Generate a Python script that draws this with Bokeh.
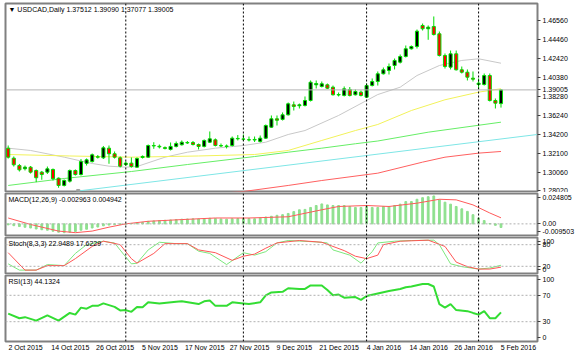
from bokeh.plotting import figure
from bokeh.layouts import column
from bokeh.models import (ColumnDataSource, Span, Label, FixedTicker, NumeralTickFormatter, Range1d,
                          LinearAxis)
from bokeh.embed import file_html
from bokeh.resources import INLINE

FONT = "Liberation Sans"
FS = "7px"

# ---------------- data ----------------
date_labels = ["2 Oct 2015", "14 Oct 2015", "26 Oct 2015", "5 Nov 2015", "17 Nov 2015", "27 Nov 2015",
               "9 Dec 2015", "21 Dec 2015", "4 Jan 2016", "14 Jan 2016", "26 Jan 2016", "5 Feb 2016"]
label_idx = [0, 8, 16, 24, 32, 40, 48, 56, 64, 72, 80, 88]
separator_idx = [21, 42, 64, 84]   # first bars of Nov, Dec, Jan, Feb

opens = [1.3266, 1.3157, 1.3077, 1.3042, 1.3059, 1.3023, 1.3005, 1.3005, 1.3034, 1.2939,
         1.2860, 1.2907, 1.3023, 1.2979, 1.3100, 1.3120, 1.3172, 1.3161, 1.3266, 1.3205,
         1.3161, 1.3088, 1.3103, 1.3059, 1.3165, 1.3168, 1.3295, 1.3287, 1.3272, 1.3252,
         1.3285, 1.3303, 1.3328, 1.3328, 1.3306, 1.3285, 1.3331, 1.3357, 1.3295, 1.3285,
         1.3295, 1.3368, 1.3366, 1.3359, 1.3355, 1.3339, 1.3375, 1.3494, 1.3586, 1.3579,
         1.3629, 1.3738, 1.3728, 1.3731, 1.3785, 1.3956, 1.3938, 1.3956, 1.3930, 1.3845,
         1.3840, 1.3905, 1.3847, 1.3876, 1.3821, 1.3948, 1.3992, 1.4076, 1.4112, 1.4166,
         1.4202, 1.4264, 1.4348, 1.4373, 1.4602, 1.4566, 1.4591, 1.4511, 1.4275, 1.4148,
         1.4293, 1.4119, 1.4093, 1.4028, 1.3959, 1.3959, 1.4057, 1.3785, 1.37512]
highs = [1.3295, 1.3176, 1.3094, 1.3077, 1.3072, 1.3034, 1.3018, 1.3066, 1.3045, 1.2947,
         1.2925, 1.3034, 1.3034, 1.3148, 1.3154, 1.3208, 1.3192, 1.3290, 1.3295, 1.3230,
         1.3176, 1.3121, 1.3165, 1.3165, 1.3187, 1.3306, 1.3331, 1.3306, 1.3285, 1.3328,
         1.3339, 1.3350, 1.3344, 1.3344, 1.3317, 1.3361, 1.3448, 1.3372, 1.3317, 1.3306,
         1.3393, 1.3409, 1.3415, 1.3393, 1.3393, 1.3404, 1.3524, 1.3622, 1.3622, 1.3655,
         1.3763, 1.3774, 1.3752, 1.3829, 1.4003, 1.4003, 1.3992, 1.3970, 1.3948, 1.3872,
         1.3938, 1.3932, 1.3905, 1.3894, 1.3970, 1.4025, 1.4101, 1.4144, 1.4188, 1.4242,
         1.4286, 1.4384, 1.4384, 1.4558, 1.4623, 1.4602, 1.4700, 1.4536, 1.4297, 1.4329,
         1.4329, 1.4155, 1.4123, 1.4101, 1.4025, 1.4079, 1.4079, 1.3807, 1.39090]
lows = [1.3153, 1.3066, 1.3012, 1.3023, 1.2990, 1.2896, 1.2922, 1.2985, 1.2914, 1.2835,
        1.2849, 1.2892, 1.2968, 1.2968, 1.3077, 1.3110, 1.3153, 1.3148, 1.3096, 1.3153,
        1.3056, 1.3072, 1.3054, 1.3054, 1.3153, 1.3163, 1.3259, 1.3263, 1.3252, 1.3241,
        1.3274, 1.3295, 1.3312, 1.3295, 1.3252, 1.3274, 1.3322, 1.3285, 1.3279, 1.3263,
        1.3285, 1.3350, 1.3344, 1.3339, 1.3333, 1.3328, 1.3366, 1.3486, 1.3513, 1.3567,
        1.3622, 1.3676, 1.3698, 1.3720, 1.3774, 1.3916, 1.3927, 1.3910, 1.3840, 1.3829,
        1.3829, 1.3829, 1.3840, 1.3829, 1.3812, 1.3938, 1.3948, 1.4068, 1.4068, 1.4123,
        1.4188, 1.4253, 1.4340, 1.4351, 1.4547, 1.4446, 1.4493, 1.4264, 1.4133, 1.4123,
        1.4112, 1.4079, 1.4003, 1.3992, 1.3905, 1.3948, 1.3774, 1.3698, 1.37077]
closes = [1.3168, 1.3085, 1.3030, 1.3059, 1.3005, 1.2944, 1.2979, 1.3041, 1.2933, 1.2860,
          1.2914, 1.3023, 1.2979, 1.3120, 1.3139, 1.3194, 1.3168, 1.3270, 1.3205, 1.3168,
          1.3070, 1.3103, 1.3067, 1.3154, 1.3176, 1.3295, 1.3290, 1.3280, 1.3263, 1.3285,
          1.3317, 1.3331, 1.3323, 1.3306, 1.3285, 1.3350, 1.3368, 1.3295, 1.3290, 1.3290,
          1.3375, 1.3372, 1.3364, 1.3355, 1.3361, 1.3375, 1.3513, 1.3586, 1.3570, 1.3629,
          1.3749, 1.3720, 1.3738, 1.3785, 1.3984, 1.3970, 1.3967, 1.3919, 1.3847, 1.3850,
          1.3912, 1.3840, 1.3883, 1.3840, 1.3948, 1.3992, 1.4076, 1.4119, 1.4155, 1.4221,
          1.4264, 1.4348, 1.4373, 1.4540, 1.4566, 1.4583, 1.4503, 1.4275, 1.4155, 1.4293,
          1.4119, 1.4093, 1.4039, 1.4017, 1.3974, 1.4057, 1.3785, 1.3756, 1.39005]

# moving averages read at selected bars
ma_gray_idx = [0, 4, 10, 15, 18, 21, 23, 28, 32, 37, 42, 46, 50, 53, 59, 64, 66, 70, 73, 77, 81, 84, 88]
ma_gray_val = [1.3266, 1.3241, 1.3168, 1.3099, 1.3070, 1.3059, 1.3066, 1.3168, 1.3222, 1.3266, 1.3295,
               1.3331, 1.3415, 1.3458, 1.3622, 1.3785, 1.3850, 1.3930, 1.4057, 1.4166, 1.4221, 1.4239, 1.4191]
ma_yellow_idx = [0, 11, 22, 34, 44, 50, 56, 62, 66, 72, 78, 84, 88]
ma_yellow_val = [1.3197, 1.3181, 1.3168, 1.3181, 1.3197, 1.3241, 1.3350, 1.3458, 1.3524, 1.3676, 1.3793, 1.3876, 1.3913]
ma_green_idx = [0, 10, 22, 32, 44, 50, 56, 62, 66, 75, 88]
ma_green_val = [1.2860, 1.2936, 1.3012, 1.3088, 1.3175, 1.3222, 1.3266, 1.3314, 1.3344, 1.3440, 1.3549]
ma_red_idx = [37, 42, 50, 56, 66, 74, 78, 84, 88]
ma_red_val = [1.2770, 1.2794, 1.2860, 1.2914, 1.2994, 1.3114, 1.3168, 1.3212, 1.3230]
trend_idx = [12.5, 94.5]
trend_val = [1.2800, 1.3415]

price_ticks = [1.28020, 1.30060, 1.32100, 1.34200, 1.36240, 1.38280, 1.40380, 1.42420, 1.44460, 1.46560]

macd_main = [-0.0008, -0.0015, -0.0022, -0.0028, -0.0034, -0.0042, -0.0048, -0.0052, -0.0060, -0.0068,
             -0.0072, -0.0068, -0.0062, -0.0052, -0.0044, -0.0034, -0.0026, -0.0016, -0.0010, -0.0006,
             -0.0004, -0.0002, 0.0003, 0.0008, 0.0012, 0.0020, 0.0024, 0.0027, 0.0029, 0.0032,
             0.0035, 0.0038, 0.0040, 0.0041, 0.0040, 0.0043, 0.0046, 0.0043, 0.0040, 0.0038,
             0.0042, 0.0043, 0.0044, 0.0043, 0.0042, 0.0048, 0.0056, 0.0062, 0.0070, 0.0075,
             0.0085, 0.0100, 0.0115, 0.0118, 0.0134, 0.0150, 0.0163, 0.0155, 0.0150, 0.0150,
             0.0150, 0.0142, 0.0134, 0.0134, 0.0142, 0.0134, 0.0134, 0.0142, 0.0142, 0.0150,
             0.0161, 0.0182, 0.0182, 0.0201, 0.0214, 0.0222, 0.0228, 0.0196, 0.0177, 0.0161,
             0.0142, 0.0123, 0.0102, 0.0075, 0.0048, 0.0027, 0.0002, -0.0012, -0.002963]
macd_sig_idx = [0, 4, 9, 12, 15, 18, 21, 25, 31, 37, 43, 50, 56, 59, 64, 68, 73, 77, 80, 83, 86, 88]
macd_sig_val = [0.0048, -0.0005, -0.0059, -0.0072, -0.0059, -0.0027, 0.0000, 0.0021, 0.0035, 0.0048, 0.0048,
                0.0058, 0.0115, 0.0142, 0.0150, 0.0142, 0.0169, 0.0201, 0.0196, 0.0155, 0.0089, 0.004942]
macd_hi, macd_lo = 0.024805, -0.009503

stoch_k_idx = [0, 2, 5, 7, 10, 12, 14, 17, 18, 19, 20, 22, 23, 25, 27, 30, 32, 34, 36, 39, 42, 44, 46, 48,
               50, 55, 57, 58, 61, 63, 65, 66, 69, 72, 76, 77, 79, 81, 84, 86, 88]
stoch_k_val = [26.8, 9.4, 9.4, 24.8, 21.9, 55.8, 80.0, 89.7, 86.8, 84.9, 65.0, 26.8, 28.7, 65.5, 86.8, 82.9,
               82.9, 62.0, 55.8, 24.8, 57.8, 51.0, 60.7, 84.9, 91.6, 87.8, 84.9, 65.5, 51.0, 28.7, 60.7,
               84.9, 89.7, 91.6, 92.6, 80.0, 26.8, 19.0, 12.3, 15.2, 22.9489]
stoch_d_idx = [0, 3, 5, 7, 10, 12, 15, 17, 18, 20, 22, 23, 26, 28, 32, 34, 37, 40, 42, 44, 46, 48, 52, 56,
               60, 62, 64, 66, 67, 70, 75, 78, 80, 82, 84, 86, 88]
stoch_d_val = [57.8, 9.4, 9.4, 21.9, 21.9, 41.3, 75.2, 89.7, 86.8, 80.0, 41.3, 28.7, 55.8, 82.9, 82.9, 65.5,
               57.8, 36.5, 48.0, 53.9, 70.3, 84.9, 91.6, 86.8, 63.6, 48.0, 41.3, 51.0, 80.0, 89.7, 92.6,
               75.2, 31.6, 19.0, 12.3, 12.3, 17.6229]

rsi_idx = [0, 2, 3, 5, 7, 9, 11, 12, 13, 14, 15, 16, 17, 19, 20, 21, 22, 23, 24, 25, 27, 30, 31, 34, 35, 36,
           37, 39, 40, 42, 43, 45, 46, 47, 49, 50, 52, 53, 54, 56, 57, 58, 59, 60, 62, 63, 64, 66, 68, 70,
           71, 72, 74, 75, 76, 77, 78, 79, 80, 82, 83, 84, 85, 86, 87, 88]
rsi_val = [42.3, 35.3, 36.9, 31.6, 39.6, 31.6, 43.3, 40.7, 51.3, 49.7, 54.0, 54.0, 57.7, 52.4, 47.1, 47.6,
           44.9, 52.4, 51.9, 59.3, 57.7, 60.4, 60.9, 56.7, 60.9, 62.0, 54.0, 54.0, 59.3, 57.7, 56.7, 59.3,
           70.0, 74.3, 75.3, 80.7, 79.6, 79.6, 84.9, 84.9, 78.0, 70.0, 71.1, 66.3, 67.3, 63.1, 68.9, 72.7,
           76.4, 79.6, 82.3, 83.3, 87.1, 87.1, 83.3, 56.7, 51.3, 56.7, 47.6, 46.0, 43.3, 40.7, 46.0, 35.3,
           35.3, 44.1324]

# ---------------- style ----------------
FRAME = "#808080"
WICK = "#00dd00"
LEVEL = "#b0b0b0"
EDGE_PAD = 4        # px: MT4 draws the edge labels inside the panel
LABEL_SHIFT = 3.1   # bars: MT4 date labels start at their bar (Bokeh centres them)

xr = Range1d(-0.48, 94.52)


def make_fig(h, yr, top, bottom):
    p = figure(width=583, height=h, x_range=xr, y_range=yr, output_backend="svg", toolbar_location=None,
               x_axis_location=None, y_axis_location="right",
               min_border_left=5, min_border_right=46, min_border_top=top, min_border_bottom=bottom)
    p.grid.visible = False
    p.outline_line_color = FRAME
    p.outline_line_width = 2
    p.background_fill_color = "white"
    p.border_fill_color = "white"
    ax = p.yaxis[0]
    ax.axis_line_color = FRAME
    ax.major_tick_line_color = "#404040"
    ax.major_tick_out = 3
    ax.major_tick_in = 0
    ax.minor_tick_line_color = None
    ax.major_label_text_font = FONT
    ax.major_label_text_font_size = FS
    ax.major_label_text_color = "black"
    ax.major_label_standoff = 2
    for s in separator_idx:
        p.add_layout(Span(location=s, dimension="height", line_color="black", line_dash="2 2", line_width=1))
    return p


def panel_title(p, text):
    p.add_layout(Label(x=xr.start, y=p.y_range.end, x_offset=3, y_offset=-2, text=text,
                       text_baseline="top", text_font=FONT, text_font_size=FS, text_color="black"))


def edge_ticks(lo, hi, frame_h):
    d = (hi - lo) * EDGE_PAD / frame_h
    return hi - d, lo + d


# ---------------- main price panel ----------------
pm = make_fig(192, Range1d(1.27943, 1.48411), 3, 1)
pm.yaxis.ticker = FixedTicker(ticks=price_ticks + [closes[-1]])
pm.yaxis.formatter = NumeralTickFormatter(format="0.00000")

pm.line(ma_gray_idx, ma_gray_val, line_color="#c8c8c8", line_width=1)
pm.line(ma_yellow_idx, ma_yellow_val, line_color="#f2f25a", line_width=1)
pm.line(ma_green_idx, ma_green_val, line_color="#66ee66", line_width=1)
pm.line(ma_red_idx, ma_red_val, line_color="#ff6060", line_width=1)
pm.line(trend_idx, trend_val, line_color="#7ee6e6", line_width=1)
pm.scatter([trend_idx[0]], [trend_val[0]], marker="square", size=3, color="#a0a0a0")

pm.add_layout(Span(location=closes[-1], dimension="width", line_color="#b4b4b4", line_width=1))

idx = list(range(len(closes)))
src = ColumnDataSource(dict(
    x=idx, high=highs, low=lows,
    top=[max(o, c) for o, c in zip(opens, closes)],
    bottom=[min(o, c) for o, c in zip(opens, closes)],
    fill=["black" if c >= o else "#ff0000" for o, c in zip(opens, closes)],
))
pm.segment(x0="x", y0="low", x1="x", y1="high", source=src, line_color=WICK, line_width=1)
pm.vbar(x="x", width=0.55, top="top", bottom="bottom", fill_color="fill", line_color=WICK,
        line_width=1, source=src)

panel_title(pm, "\u25bc USDCAD,Daily  %.5f %.5f %.5f %.5f" % (opens[-1], highs[-1], lows[-1], closes[-1]))

# ---------------- MACD ----------------
MACD_FRAME = 42
pmacd = make_fig(44, Range1d(macd_lo, macd_hi), 1, 1)
t_hi, t_lo = edge_ticks(macd_lo, macd_hi, MACD_FRAME)
pmacd.yaxis.ticker = FixedTicker(ticks=[t_lo, 0.0, t_hi])
pmacd.yaxis.major_label_overrides = {t_hi: "%.6f" % macd_hi, 0.0: "0.00", t_lo: "%.6f" % macd_lo}
pmacd.add_layout(Span(location=0, dimension="width", line_color=LEVEL, line_dash="2 2", line_width=1))
pmacd.vbar(x=idx, top=macd_main, bottom=0, width=0.32, color="#8ee08e")
pmacd.line(macd_sig_idx, macd_sig_val, line_color="#ff5a5a", line_width=1)
panel_title(pmacd, "MACD(12,26,9) %.6f %.6f" % (macd_main[-1], macd_sig_val[-1]))

# ---------------- Stochastic ----------------
ST_FRAME = 36
pst = make_fig(38, Range1d(0, 100), 1, 1)
s_hi, s_lo = edge_ticks(0, 100, ST_FRAME)
pst.yaxis.ticker = FixedTicker(ticks=[s_lo, 20, 80, s_hi])
pst.yaxis.major_label_overrides = {s_hi: "100", s_lo: "0"}
for lv in (20, 80):
    pst.add_layout(Span(location=lv, dimension="width", line_color=LEVEL, line_dash="2 2", line_width=1))
pst.line(stoch_k_idx, stoch_k_val, line_color="#7de87d", line_width=1)
pst.line(stoch_d_idx, stoch_d_val, line_color="#ff5555", line_width=1)
panel_title(pst, "Stoch(8,3,3) %.4f %.4f" % (stoch_k_val[-1], stoch_d_val[-1]))

# ---------------- RSI ----------------
RSI_FRAME = 68
prsi = make_fig(79, Range1d(0, 100), 1, 10)
r_hi, r_lo = edge_ticks(0, 100, RSI_FRAME)
prsi.yaxis.ticker = FixedTicker(ticks=[r_lo, 30, 70, r_hi])
prsi.yaxis.major_label_overrides = {r_hi: "100", r_lo: "0"}
for lv in (30, 70):
    prsi.add_layout(Span(location=lv, dimension="width", line_color=LEVEL, line_dash="2 2", line_width=1))
prsi.line(rsi_idx, rsi_val, line_color="#33dd33", line_width=2)
panel_title(prsi, "RSI(13) %.4f" % rsi_val[-1])

# date axis: a shifted copy of the bar range so each label starts at its bar
prsi.extra_x_ranges = {"labels": Range1d(xr.start - LABEL_SHIFT, xr.end - LABEL_SHIFT)}
xa = LinearAxis(x_range_name="labels", ticker=FixedTicker(ticks=label_idx),
                major_label_overrides={i: t for i, t in zip(label_idx, date_labels)})
xa.major_tick_line_color = None
xa.major_tick_out = 0
xa.major_tick_in = 0
xa.minor_tick_line_color = None
xa.axis_line_color = None
xa.major_label_standoff = 2
xa.major_label_text_font = FONT
xa.major_label_text_font_size = FS
xa.major_label_text_color = "black"
prsi.add_layout(xa, "below")

layout = column(pm, pmacd, pst, prsi)
open("out.html", "w").write(file_html(layout, INLINE))
